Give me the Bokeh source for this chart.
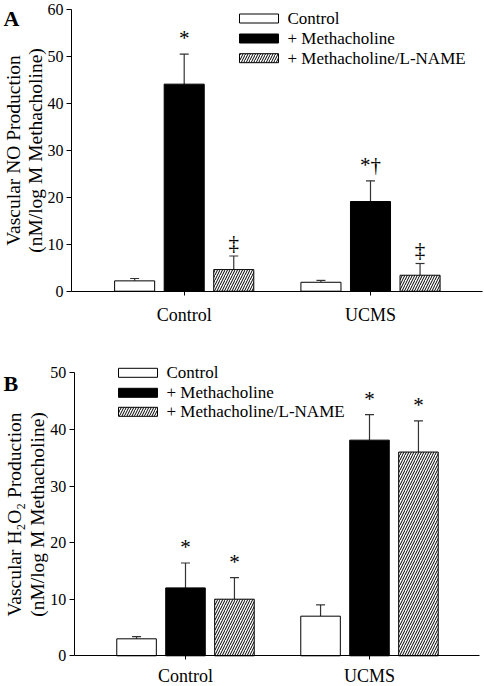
import math
from bokeh.plotting import figure
from bokeh.models import (ColumnDataSource, Range1d, FixedTicker, Whisker, TeeHead)
from bokeh.layouts import column
from bokeh.embed import file_html
from bokeh.resources import INLINE
from bokeh.core.properties import value

# ---------------- data ----------------
groups = ["Control", "UCMS"]
treatments = ["Control", "+ Methacholine", "+ Methacholine/L-NAME"]

# Panel A: vascular NO production
no_control = [2.2, 1.9]
no_control_err = [0.5, 0.4]
no_mch = [44.1, 19.1]
no_mch_err = [6.4, 4.4]
no_lname = [4.6, 3.4]
no_lname_err = [2.9, 2.5]
no_sig_control = ["", ""]
no_sig_mch = ["*", "*†"]
no_sig_lname = ["‡", "‡"]
no_ticks = [0, 10, 20, 30, 40, 50, 60]

# Panel B: vascular H2O2 production
h2o2_control = [3.0, 7.0]
h2o2_control_err = [0.4, 2.0]
h2o2_mch = [12.0, 38.1]
h2o2_mch_err = [4.4, 4.5]
h2o2_lname = [10.0, 36.0]
h2o2_lname_err = [3.8, 5.5]
h2o2_sig_control = ["", ""]
h2o2_sig_mch = ["*", "*"]
h2o2_sig_lname = ["*", "*"]
h2o2_ticks = [0, 10, 20, 30, 40, 50]

FONT = "Liberation Serif"
X0, X1 = 0.395, 2.6          # extent of the x axis line (data units)
BAR_W = 0.215
OFFSETS = [-0.266, 0.0, 0.266]
STYLES = [
    dict(fill_color="white", hatch_pattern=None),
    dict(fill_color="black", hatch_pattern=None),
    dict(fill_color="white", hatch_pattern="right_diagonal_line"),
]


def bar_style(k):
    st = STYLES[k]
    kw = dict(fill_color=st["fill_color"], line_color="black", line_width=1)
    if st["hatch_pattern"]:
        kw.update(hatch_pattern=st["hatch_pattern"], hatch_color="black",
                  hatch_scale=5, hatch_weight=1)
    return kw


def make_panel(series, letter, ylabels, ticks, ymax_axis, width, height,
               col_first, px_per_cat, row_zero, px_per_unit,
               leg_col, leg_rows, letter_pos, ylab_cols, ylab_row, x_standoff):
    # the plotting frame fills the whole canvas; axes are pinned with fixed_location
    x_range = Range1d(1 - col_first / px_per_cat, 1 + (width - col_first) / px_per_cat)
    y_range = Range1d(-(height - row_zero) / px_per_unit, row_zero / px_per_unit)
    p = figure(width=width, height=height, output_backend="svg", toolbar_location=None,
               x_range=x_range, y_range=y_range,
               min_border_left=0, min_border_right=0, min_border_top=0, min_border_bottom=0)
    p.outline_line_color = None
    p.xgrid.visible = False
    p.ygrid.visible = False
    p.background_fill_color = "white"
    p.border_fill_color = "white"

    xs = [i + 1 for i in range(len(groups))]
    for k, (vals, errs, sig) in enumerate(series):
        bx = [x + OFFSETS[k] for x in xs]
        tops = [v + e for v, e in zip(vals, errs)]
        # asterisks sit high in the font, double daggers low: lift them differently
        yoff = [-16 if s.startswith("*") else -13 for s in sig]
        src = ColumnDataSource(dict(x=bx, y=vals, top=tops, sig=sig, yoff=yoff))
        p.vbar(x="x", top="y", bottom=0, width=BAR_W, source=src, **bar_style(k))
        w = Whisker(base="x", upper="top", lower="y", source=src, dimension="height",
                    line_color="#333333", line_width=1.2,
                    upper_head=TeeHead(size=9, line_color="#333333", line_width=1.2),
                    lower_head=None)
        p.add_layout(w)
        p.text(x="x", y="top", text="sig", source=src, text_align="center",
               text_baseline="alphabetic", y_offset="yoff",
               text_font=value(FONT), text_font_size="21px", text_color="black")

    # y axis
    ax = p.yaxis[0]
    ax.fixed_location = X0
    ax.ticker = FixedTicker(ticks=ticks)
    ax.bounds = (0, ymax_axis)
    ax.major_tick_out = 5
    ax.major_tick_in = 0
    ax.minor_tick_line_color = None
    ax.major_label_standoff = 3
    ax.major_label_text_font = FONT
    ax.major_label_text_font_size = "16px"
    ax.major_label_text_color = "black"
    ax.axis_line_color = "black"
    ax.major_tick_line_color = "black"

    # x axis
    xa = p.xaxis[0]
    xa.fixed_location = 0
    xa.bounds = (X0, X1)
    xa.ticker = FixedTicker(ticks=xs)
    xa.major_label_overrides = {x: g for x, g in zip(xs, groups)}
    xa.major_tick_out = 4
    xa.major_tick_in = 0
    xa.minor_tick_line_color = None
    xa.major_label_standoff = x_standoff
    xa.major_label_text_font = FONT
    xa.major_label_text_font_size = "18px"
    xa.major_label_text_color = "black"
    xa.axis_line_color = "black"
    xa.major_tick_line_color = "black"

    # canvas pixel space (x = column, y = height - row) for legend and titles
    p.extra_x_ranges = {"px": Range1d(0, width)}
    p.extra_y_ranges = {"px": Range1d(0, height)}
    for k, name in enumerate(treatments):
        yc = height - leg_rows[k]
        p.quad(left=[leg_col], right=[leg_col + 39], top=[yc + 4.5], bottom=[yc - 4.5],
               x_range_name="px", y_range_name="px", **bar_style(k))
        p.text(x=[leg_col + 48], y=[yc], text=[name], x_range_name="px", y_range_name="px",
               text_align="left", text_baseline="middle", text_font=value(FONT),
               text_font_size="17px", text_color="black")

    # two-line y axis title, rotated
    p.text(x=list(ylab_cols), y=[height - ylab_row] * len(ylabels), text=list(ylabels),
           angle=math.pi / 2, x_range_name="px", y_range_name="px",
           text_align="center", text_baseline="alphabetic", text_font=value(FONT),
           text_font_size="19.5px", text_color="black")

    # panel letter
    p.text(x=[letter_pos[0]], y=[height - letter_pos[1]], text=[letter],
           x_range_name="px", y_range_name="px", text_align="left",
           text_baseline="alphabetic", text_font=value(FONT), text_font_size="22px",
           text_font_style="bold", text_color="black")
    return p


series_a = [(no_control, no_control_err, no_sig_control),
            (no_mch, no_mch_err, no_sig_mch),
            (no_lname, no_lname_err, no_sig_lname)]
series_b = [(h2o2_control, h2o2_control_err, h2o2_sig_control),
            (h2o2_mch, h2o2_mch_err, h2o2_sig_mch),
            (h2o2_lname, h2o2_lname_err, h2o2_sig_lname)]

# Panel A: canvas 484x340, Control group centred at column 183.7, 186.3 px between groups,
# zero at row 290.7, 60 at row 9 (kept a little below the top so its label is whole)
pa = make_panel(series_a, "A", ["Vascular NO Production", "(nM/log M Methacholine)"],
                no_ticks, 60, 484, 340, 183.7, 186.3, 290.7, (290.7 - 9) / 60,
                leg_col=239, leg_rows=[18, 38, 57.7], letter_pos=(3, 18),
                ylab_cols=(13, 34.5), ylab_row=150, x_standoff=10)

# Panel B: canvas 484x346 (page rows 340..686), zero at row 315.3, 50 at row 32.3
pb = make_panel(series_b, "B", ["Vascular H\u2082O\u2082 Production", "(nM/log M Methacholine)"],
                h2o2_ticks, 50, 484, 346, 185, 184, 315.3, (315.3 - 32.3) / 50,
                leg_col=118, leg_rows=[32.3, 52.3, 71.3], letter_pos=(3, 42.7),
                ylab_cols=(14, 36.5), ylab_row=174, x_standoff=6)

layout = column(pa, pb, spacing=0)
open("out.html", "w").write(file_html(layout, INLINE))
